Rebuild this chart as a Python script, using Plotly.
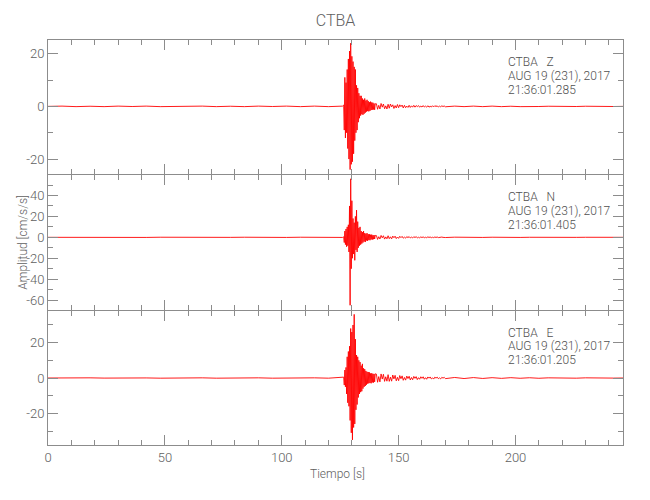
import numpy as np
import plotly.graph_objects as go
from plotly.subplots import make_subplots

STATION = "CTBA"
COMPONENTS = ["Z", "N", "E"]
DATE_LABEL = "AUG 19 (231), 2017"
START_TIMES = ["21:36:01.285", "21:36:01.405", "21:36:01.205"]
X_LABEL = "Tiempo [s]"
Y_LABEL = "Amplitud [cm/s/s]"
X_TICKS = [0, 50, 100, 150, 200]
Y_TICKS = [[20, 0, -20], [40, 20, 0, -20, -40, -60], [20, 0, -20]]

# sampling of each segment (start time, step) in seconds
PRE_T0, PRE_DT = 0.0, 6.0
EVT_T0, EVT_DT = 126.5, 0.25
CODA_T0, CODA_DT = 140.5, 0.5
TAIL_T0, TAIL_DT = 174.0, 4.0

# ---- Z component (cm/s/s) ----
z_pre = [0.0, 0.1, -0.1, 0.05, -0.1, 0.1, -0.05, 0.1, -0.1, 0.05, -0.05,
         0.1, -0.1, 0.05, -0.1, 0.1, -0.05, 0.1, -0.1, 0.1, -0.1, 0.1]
z_event = [0.5, -9, 11, -12, 9, -10, 14, -16, 18, -20, 21, -24, 24, -22, 19,
           -21, 17, -18, 15, -13, 14, -10, 8, -9, 7, -6, 5, -4.5, 4, -3.5,
           4, -3, 3, -3.2, 2.5, -2.8, 3, -2.4, 2.2, -2, 2.5, -1.8, 2, -1.9,
           1.6, -1.7, 1.8, -1.4, 1.5, -1.3, 1.4, -1.2, 1.1, -1.3, 1.0]
z_coda = [1.0, -1.1, 0.4, -1.0, 1.1, -0.3, 0.9, -0.9, 0.2, -1.0,
          0.8, -0.7, 0.9, -0.2, 0.6, -0.8, 0.3, -0.6, 0.7, -0.5,
          0.6, -0.1, 0.5, -0.6, 0.4, -0.5, 0.1, -0.4, 0.4, -0.4,
          0.2, -0.3, 0.4, -0.3, 0.3, -0.1, 0.3, -0.3, 0.1, -0.25,
          0.3, -0.25, 0.1, -0.3, 0.25, -0.3, 0.05, -0.25, 0.25, -0.2,
          0.25, -0.05, 0.2, -0.25, 0.1, -0.15, 0.2, -0.05, 0.15, -0.15]
z_tail = [0.1, -0.1, 0.1, -0.1, 0.1, -0.1, 0.05, -0.1, 0.05, -0.05,
          0.05, -0.05, 0.05, -0.05, 0.05, -0.05, 0.05, -0.05, 0.0]

# ---- N component (cm/s/s) ----
n_pre = [0.0, -0.1, 0.1, -0.05, 0.1, -0.1, 0.05, -0.1, 0.1, -0.05, 0.05,
         -0.1, 0.1, -0.05, 0.1, -0.1, 0.05, -0.1, 0.1, -0.1, 0.1, -0.1]
n_event = [0.5, -5, 6, -7, 8, -9, 10, -8, 12, -14, 30, -65, 56, -30, 35, -20,
           18, -16, 14, -22, 20, -12, 26, -14, 15, -10, 9, -8, 10, -7, 6, -6,
           5, -5, 6, -4, 4, -4.5, 3.5, -3, 4, -3.5, 3, -2.5, 3, -2.8, 2.5,
           -2, 2.6, -2.2, 2, -1.8, 2.2, -1.6, 1.8]
n_coda = [1.7, -2.0, 0.6, -1.6, 1.8, -0.5, 1.5, -1.7, 0.4, -1.4,
          1.5, -1.3, 0.5, -1.5, 1.2, -0.4, 1.1, -1.2, 0.3, -1.0,
          1.0, -0.3, 0.9, -0.8, 0.2, -0.8, 0.7, -0.3, 0.7, -0.6,
          0.2, -0.6, 0.6, -0.2, 0.6, -0.5, 0.1, -0.5, 0.4, -0.2,
          0.4, -0.4, 0.1, -0.35, 0.4, -0.1, 0.3, -0.35, 0.1, -0.3,
          0.3, -0.1, 0.3, -0.25, 0.05, -0.25, 0.25, -0.05, 0.2, -0.2]
n_tail = [0.15, -0.15, 0.1, -0.1, 0.1, -0.1, 0.1, -0.1, 0.05, -0.1,
          0.05, -0.05, 0.05, -0.05, 0.05, -0.05, 0.05, -0.05, 0.0]

# ---- E component (cm/s/s) ----
e_pre = [0.0, 0.1, -0.1, 0.1, -0.05, 0.1, -0.1, 0.05, -0.1, 0.1, -0.05,
         0.1, -0.1, 0.1, -0.05, 0.1, -0.1, 0.05, -0.1, 0.1, -0.1, 0.1]
e_event = [0.5, -4, 4.5, -5, 6, -9, 12, -14, 15, -16, 18, -24, 28, -31, 26,
           -35, 30, -28, 36, -26, 22, -18, 13, -15, 12, -11, 10, -9, 9, -8,
           7, -7.5, 8, -6, 5.5, -5, 5, -4.5, 4, -3.8, 3.5, -3.2, 3.4, -3,
           3.2, -2.8, 2.6, -3, 2.7, -2.5, 2.4, -2.6, 2.3, -2.2, 2.4]
e_coda = [2.2, -2.4, 0.8, -2.2, 2.3, -0.6, 2.1, -1.9, 0.7, -1.8,
          1.9, -1.9, 0.5, -1.8, 1.7, -0.5, 1.5, -1.6, 0.4, -1.5,
          1.4, -0.4, 1.2, -1.3, 0.3, -1.2, 1.1, -0.3, 1.0, -1.1,
          0.3, -1.0, 0.9, -0.2, 0.8, -0.9, 0.2, -0.7, 0.7, -0.2,
          0.7, -0.7, 0.2, -0.7, 0.6, -0.1, 0.6, -0.5, 0.1, -0.6,
          0.5, -0.1, 0.5, -0.4, 0.1, -0.5, 0.4, -0.1, 0.4, -0.35]
e_tail = [0.3, -0.3, 0.25, -0.25, 0.2, -0.2, 0.2, -0.15, 0.15, -0.15,
          0.1, -0.1, 0.1, -0.1, 0.1, -0.05, 0.05, -0.05, 0.0]

Y_RANGES = [[-25.8, 25.2], [-69.2, 59.3], [-37.9, 38.1]]
X_RANGE = [0, 246]


def build(pre, event, coda, tail):
    t = np.concatenate([
        PRE_T0 + PRE_DT * np.arange(len(pre)),
        EVT_T0 + EVT_DT * np.arange(len(event)),
        CODA_T0 + CODA_DT * np.arange(len(coda)),
        TAIL_T0 + TAIL_DT * np.arange(len(tail)),
    ])
    a = np.concatenate([pre, event, coda, tail]).astype(float)
    return t, a


traces = [build(z_pre, z_event, z_coda, z_tail),
          build(n_pre, n_event, n_coda, n_tail),
          build(e_pre, e_event, e_coda, e_tail)]

FONT = "Roboto, Liberation Sans, sans-serif"
WEIGHT = 300
AXIS_COLOR = "#8c8c8c"
TEXT_COLOR = "#606060"

fig = make_subplots(rows=3, cols=1, shared_xaxes=True, vertical_spacing=1.0 / 405)

for i, (t, a) in enumerate(traces):
    fig.add_trace(go.Scatter(x=t, y=a, mode="lines",
                             line=dict(color="#ff0000", width=0.9),
                             hoverinfo="skip"), row=i + 1, col=1)

tickfont = dict(family=FONT, size=13, color=TEXT_COLOR, weight=WEIGHT)
common = dict(showline=True, linecolor=AXIS_COLOR, linewidth=1, mirror="ticks",
              ticks="inside", tickcolor=AXIS_COLOR, ticklen=10, tickwidth=1,
              showgrid=False, zeroline=False, tickfont=tickfont)

for i in range(3):
    fig.update_xaxes(range=X_RANGE, tickmode="array", tickvals=X_TICKS,
                     ticktext=[str(v) for v in X_TICKS],
                     minor=dict(dtick=10, tick0=0, ticks="inside", ticklen=5,
                                tickcolor=AXIS_COLOR, showgrid=False),
                     showticklabels=(i == 2), row=i + 1, col=1, **common)
    fig.update_yaxes(range=Y_RANGES[i], tickmode="array", tickvals=Y_TICKS[i],
                     ticktext=[str(v) for v in Y_TICKS[i]],
                     minor=dict(dtick=10, tick0=0, ticks="inside", ticklen=5,
                                tickcolor=AXIS_COLOR, showgrid=False),
                     row=i + 1, col=1, **common)

annotations = []
offsets_px = [22, 36, 50]
panel_h = 135.0
for i, comp in enumerate(COMPONENTS):
    lines = [f"{STATION}\u00a0\u00a0\u00a0{comp}", DATE_LABEL, START_TIMES[i]]
    yref = "y domain" if i == 0 else f"y{i + 1} domain"
    xref = "x" if i == 0 else f"x{i + 1}"
    for txt, off in zip(lines, offsets_px):
        annotations.append(dict(text=txt, x=196, xref=xref, y=1 - off / panel_h,
                                yref=yref, xanchor="left", yanchor="middle",
                                showarrow=False,
                                font=dict(family=FONT, size=12, color="#505050",
                                          weight=WEIGHT)))

annotations.append(dict(text=Y_LABEL, x=-0.045, xref="paper", y=0.5, yref="paper",
                        textangle=-90, showarrow=False, xanchor="center",
                        yanchor="middle",
                        font=dict(family=FONT, size=12, color=TEXT_COLOR,
                                  weight=WEIGHT)))
annotations.append(dict(text=X_LABEL, x=0.504, xref="paper", y=-0.072, yref="paper",
                        showarrow=False, xanchor="center", yanchor="middle",
                        font=dict(family=FONT, size=12, color=TEXT_COLOR,
                                  weight=WEIGHT)))

fig.update_layout(
    width=650, height=500,
    margin=dict(l=48, r=27, t=40, b=55),
    plot_bgcolor="white", paper_bgcolor="white",
    showlegend=False,
    title=dict(text=STATION, x=0.5, xref="paper", xanchor="center",
               y=1 - 20 / 500, yref="container", yanchor="middle",
               font=dict(family=FONT, size=16, color=TEXT_COLOR, weight=WEIGHT)),
    annotations=annotations,
    font=dict(family=FONT, color=TEXT_COLOR),
)

fig.write_html("out.html",
               config={"displayModeBar": False},
               post_script="document.body.style.margin='0';")
